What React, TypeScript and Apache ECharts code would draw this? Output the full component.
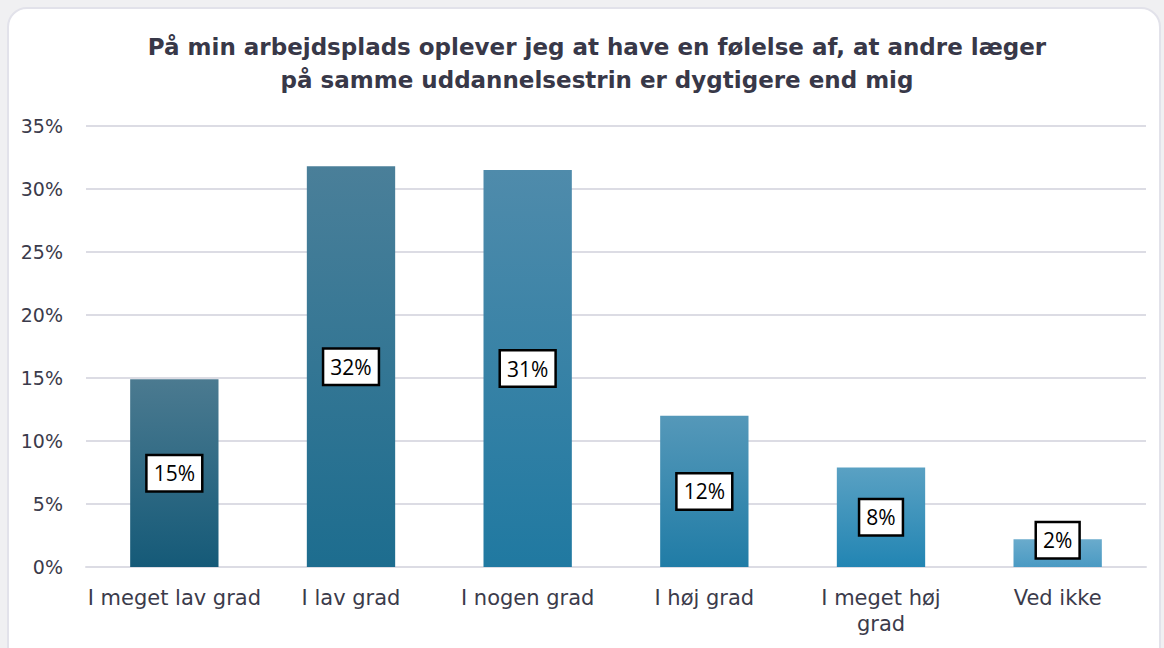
import React, { useEffect, useRef } from "react";
import * as echarts from "echarts";

const titleLines = [
  "På min arbejdsplads oplever jeg at have en følelse af, at andre læger",
  "på samme uddannelsestrin er dygtigere end mig",
];
const categories = ["I meget lav grad", "I lav grad", "I nogen grad", "I høj grad", "I meget høj grad", "Ved ikke"];
const values = [14.9, 31.8, 31.5, 12.0, 7.9, 2.2];
const labels = ["15%", "32%", "31%", "12%", "8%", "2%"];
const topColors = ["#4b7a90", "#4a7f99", "#4f8bab", "#5598b9", "#5aa1c3", "#6aabcc"];
const bottomColors = ["#155a78", "#1d6d8f", "#2079a1", "#207ca6", "#2285b3", "#4a9ac3"];
const yTicks = [0, 5, 10, 15, 20, 25, 30, 35];

export default function App() {
  const ref = useRef<HTMLDivElement>(null);
  useEffect(() => {
    if (!ref.current) return;
    const chart = echarts.init(ref.current, undefined, { renderer: "svg" });
    chart.setOption({
      animation: false,
      backgroundColor: "transparent",
      title: {
        text: titleLines.join("\n"),
        left: 592,
        textAlign: "center",
        top: 25,
        textStyle: {
          fontFamily: "DejaVu Sans",
          fontWeight: "bold",
          fontSize: 23,
          lineHeight: 33,
          color: "#383848",
        },
      },
      grid: { left: 86, right: 18, top: 126, bottom: 81, containLabel: false },
      xAxis: {
        type: "category",
        data: categories,
        axisLine: { show: true, lineStyle: { color: "#dcdce4", width: 2 } },
        axisTick: { show: false },
        axisLabel: {
          interval: 0,
          margin: 18,
          fontFamily: "DejaVu Sans",
          fontSize: 21,
          lineHeight: 26,
          color: "#3b3b4b",
          formatter: (v: string) => (v === "I meget høj grad" ? "I meget høj\ngrad" : v),
        },
      },
      yAxis: {
        type: "value",
        min: yTicks[0],
        max: yTicks[yTicks.length - 1],
        interval: 5,
        axisLine: { show: false },
        axisTick: { show: false },
        splitLine: { lineStyle: { color: "#dcdce4", width: 2 } },
        axisLabel: {
          margin: 23,
          fontFamily: "DejaVu Sans",
          fontSize: 19,
          color: "#3b3b4b",
          formatter: (v: number) => v + "%",
        },
      },
      series: [
        {
          type: "bar",
          barWidth: "50%",
          data: values.map((v, i) => ({
            value: v,
            itemStyle: {
              color: new echarts.graphic.LinearGradient(0, 0, 0, 1, [
                { offset: 0, color: topColors[i] },
                { offset: 1, color: bottomColors[i] },
              ]),
            },
            label: i === values.length - 1 ? { offset: [0, -13] } : {},
          })),
          label: {
            show: true,
            position: "inside",
            formatter: (p: any) => labels[p.dataIndex],
            fontFamily: "Open Sans",
            fontSize: 21,
            color: "#000",
            backgroundColor: "#fff",
            borderColor: "#000",
            borderWidth: 2.5,
            padding: [7, 6, 6, 6],
          },
        },
      ],
    });
    return () => chart.dispose();
  }, []);

  return (
    <div style={{ position: "fixed", left: 0, top: 0, width: 1164, height: 648, background: "#f0f0f2", overflow: "hidden" }}>
      <div
        style={{
          position: "absolute",
          left: 7,
          top: 7,
          width: 1154,
          height: 660,
          background: "#fff",
          border: "2px solid #e2e2ea",
          borderRadius: 20,
          boxSizing: "border-box",
        }}
      />
      <div ref={ref} style={{ position: "absolute", left: 0, top: 0, width: 1164, height: 648 }} />
    </div>
  );
}
